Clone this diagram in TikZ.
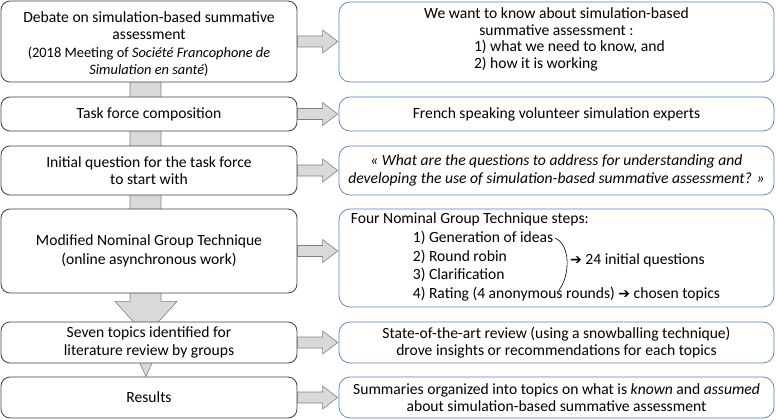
\documentclass[tikz,border=0pt]{standalone}
\usepackage{fontspec}
\setmainfont{Carlito}
\newfontfamily\symfont{DejaVu Sans}
\usepackage{xcolor}
\usetikzlibrary{calc,backgrounds}

\definecolor{rblue}{RGB}{84,124,196}

% grey block arrow between a left step and its right box
\newcommand{\sidearrow}[2]{%
  \filldraw[blk] let \p1=(#1.east), \p2=(#2.west) in
    (\x1,\y1+5.5pt) -- (\x2-16pt,\y1+5.5pt) -- (\x2-16pt,\y1+11.5pt) -- (\x2-1pt,\y1)
    -- (\x2-16pt,\y1-11.5pt) -- (\x2-16pt,\y1-5.5pt) -- (\x1,\y1-5.5pt) -- cycle;}

\begin{document}
\begin{tikzpicture}[
  x=1pt, y=-1pt,
  font=\fontsize{15.6}{17.5}\selectfont,
  stepL/.style={draw=black!75, line width=0.8pt, rounded corners=9pt, fill=white, minimum width=296pt, align=center, inner sep=2pt},
  stepR/.style={draw=rblue, line width=0.7pt, rounded corners=11pt, fill=white, minimum width=435pt, align=center, inner sep=2pt},
  blk/.style={draw=gray, fill=gray!30, line width=0.6pt},
]
\useasboundingbox (0,0) rectangle (777,420);

% Left column: steps
\node[stepL, minimum height=81pt] (L1) at (149,41.5) {\rule{0pt}{16pt}Debate on simulation-based summative\\ assessment\\
  {\fontsize{14.4}{17.5}\selectfont (2018 Meeting of \textit{Société Francophone de}}\\ {\fontsize{14.4}{17.5}\selectfont\textit{Simulation en santé})}};
\node[stepL, minimum height=34pt] (L2) at (149,114) {Task force composition};
\node[stepL, minimum height=49pt] (L3) at (149,170.5) {Initial question for the task force\\ to start with};
\node[stepL, minimum height=84pt, font=\fontsize{15.6}{19}\selectfont] (L4) at (149,251) {Modified Nominal Group Technique\\ (online asynchronous work)};
\node[stepL, minimum height=41pt] (L5) at (149,342.5) {Seven topics identified for\\ literature review by groups};
\node[stepL, minimum height=41pt] (L6) at (149,397.5) {Results};

% Right column: contents
\node[stepR, minimum height=80pt, font=\fontsize{15.6}{16.5}\selectfont] (R1) at (556.5,42) {We want to know about simulation-based\\ summative assessment :\\
  \makebox[165pt][l]{1) what we need to know, and}\\ \makebox[165pt][l]{2) how it is working}\\[-9pt]\mbox{}};
\node[stepR, minimum height=34pt] (R2) at (556.5,114) {French speaking volunteer simulation experts};
\node[stepR, minimum height=49pt] (R3) at (556.5,170.5) {\itshape « What are the questions to address for understanding and\\
  \itshape developing the use of simulation-based summative assessment? »};
\node[stepR, minimum height=98pt] (R4) at (556.5,258) {};
\node[stepR, minimum height=41pt] (R5) at (556.5,342.5) {State-of-the-art review (using a snowballing technique)\\ drove insights or recommendations for each topics};
\node[stepR, minimum height=41pt] (R6) at (556.5,397.5) {Summaries organized into topics on what is \textit{known} and \textit{assumed}\\ about simulation-based summative assessment};

% NGT steps inside R4
\node[anchor=north west, align=left, inner sep=0pt, font=\fontsize{15.6}{18.7}\selectfont] (ngt) at ([xshift=12pt,yshift=-4pt]R4.north west)
  {Four Nominal Group Technique steps:\\
   \hspace*{62pt}1) Generation of ideas\\
   \hspace*{62pt}2) Round robin\\
   \hspace*{62pt}3) Clarification\\
   \hspace*{62pt}4) Rating (4 anonymous rounds) {\symfont\fontsize{14}{14}\selectfont ➔} chosen topics};
\node[anchor=west, inner sep=0pt] (initq) at (570,260) {{\symfont\fontsize{14}{14}\selectfont ➔} 24 initial questions};
\draw[line width=0.6pt] (555,238) .. controls (571,245) and (570,276) .. (559,290);

% Arrows
\begin{scope}[on background layer]
  \filldraw[blk] let \p1=(L1.south), \p2=(L4.south), \p3=(L5.north) in
    (\x1-19pt,\y1+20pt) -- (\x1-19pt,\y2-8pt) -- (\x1-34pt,\y2-8pt) -- (\x1-3pt,\y3-14pt)
    -- (\x1+28pt,\y2-8pt) -- (\x1+12pt,\y2-8pt) -- (\x1+12pt,\y1+20pt) -- cycle;
  \filldraw[blk] let \p1=(L5.south), \p2=(L6.north) in
    (\x1-12.5pt,\y1+8pt) -- (\x1-3pt,\y2) -- (\x1+6.5pt,\y1+8pt) -- cycle;
  \sidearrow{L1}{R1}
  \sidearrow{L2}{R2}
  \sidearrow{L3}{R3}
  \sidearrow{L4}{R4}
  \sidearrow{L5}{R5}
  \sidearrow{L6}{R6}
\end{scope}
\end{tikzpicture}
\end{document}
